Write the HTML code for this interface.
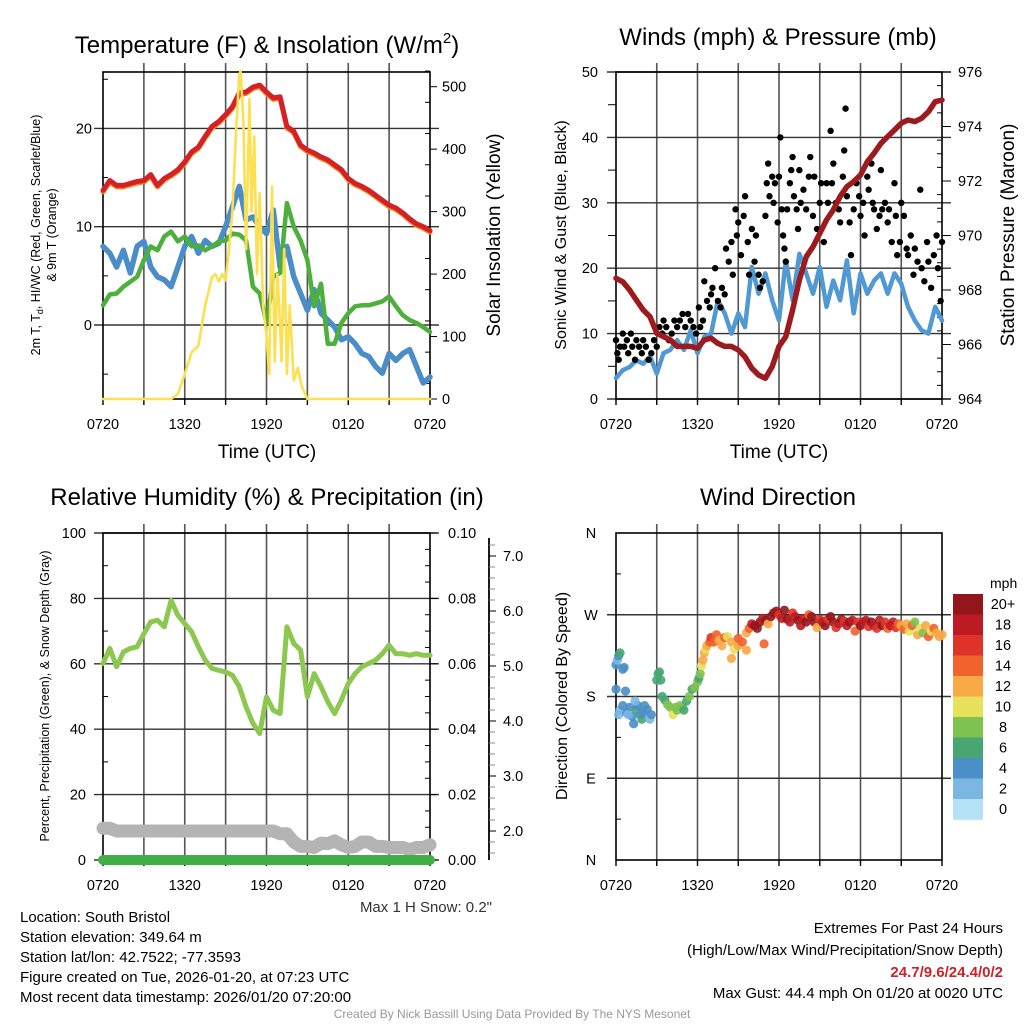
<!DOCTYPE html>
<html><head><meta charset="utf-8">
<style>
html,body{margin:0;padding:0;background:#fff;}
svg{display:block;font-family:"Liberation Sans",Arial,sans-serif;}
</style></head>
<body>
<svg id="fig" xmlns="http://www.w3.org/2000/svg" width="1024" height="1024" viewBox="0 0 1024 1024">
<rect width="1024" height="1024" fill="#fff"/>
<text x="267" y="53" font-size="24" text-anchor="middle">Temperature (F) &amp; Insolation (W/m<tspan font-size="15" dy="-10">2</tspan><tspan dy="10">)</tspan></text>
<text x="778" y="45" font-size="24" text-anchor="middle">Winds (mph) &amp; Pressure (mb)</text>
<text x="267" y="505" font-size="24" text-anchor="middle">Relative Humidity (%) &amp; Precipitation (in)</text>
<text x="778" y="505" font-size="24" text-anchor="middle">Wind Direction</text>
<g id="layer"></g>
<text x="267" y="458" font-size="19" text-anchor="middle">Time (UTC)</text>
<text x="779" y="458" font-size="19" text-anchor="middle">Time (UTC)</text>
<text transform="translate(40,235) rotate(-90)" font-size="12.5" text-anchor="middle">2m T, T<tspan font-size="9" dy="3">d</tspan><tspan dy="-3">, HI/WC (Red, Green, Scarlet/Blue)</tspan></text>
<text transform="translate(56,235) rotate(-90)" font-size="12.5" text-anchor="middle">&amp; 9m T (Orange)</text>
<text transform="translate(500,235) rotate(-90)" font-size="19" text-anchor="middle">Solar Insolation (Yellow)</text>
<text transform="translate(566,235) rotate(-90)" font-size="16" text-anchor="middle">Sonic Wind &amp; Gust (Blue, Black)</text>
<text transform="translate(1014,235) rotate(-90)" font-size="19" text-anchor="middle">Station Pressure (Maroon)</text>
<text transform="translate(49,696) rotate(-90)" font-size="12.5" text-anchor="middle">Percent, Precipitation (Green), &amp; Snow Depth (Gray)</text>
<text transform="translate(567,696) rotate(-90)" font-size="16" text-anchor="middle">Direction (Colored By Speed)</text>
<text x="492" y="912" font-size="15" fill="#333" text-anchor="end">Max 1 H Snow: 0.2"</text>
<g font-size="15">
<text x="20" y="922">Location: South Bristol</text>
<text x="20" y="942">Station elevation: 349.64 m</text>
<text x="20" y="962">Station lat/lon: 42.7522; -77.3593</text>
<text x="20" y="982">Figure created on Tue, 2026-01-20, at 07:23 UTC</text>
<text x="20" y="1002">Most recent data timestamp: 2026/01/20 07:20:00</text>
</g>
<g font-size="15" text-anchor="end">
<text x="1003" y="933">Extremes For Past 24 Hours</text>
<text x="1003" y="955">(High/Low/Max Wind/Precipitation/Snow Depth)</text>
<text x="1003" y="977" fill="#cc2229" font-weight="bold">24.7/9.6/24.4/0/2</text>
<text x="1003" y="998">Max Gust: 44.4 mph On 01/20 at 0020 UTC</text>
</g>
<text x="512" y="1018" font-size="12" fill="#999" text-anchor="middle">Created By Nick Bassill Using Data Provided By The NYS Mesonet</text>
</svg>
<script>
// ---- data ----
const timeTicks = ["0720","1320","1920","0120","0720"];
const halfHours = [0,0.5,1,1.5,2,2.5,3,3.5,4,4.5,5,5.5,6,6.5,7,7.5,8,8.5,9,9.5,10,10.5,11,11.5,12,12.5,13,13.5,14,14.5,15,15.5,16,16.5,17,17.5,18,18.5,19,19.5,20,20.5,21,21.5,22,22.5,23,23.5,24];
const tempF = [13.7,14.7,14.2,14.2,14.4,14.6,14.7,15.3,14.2,14.9,15.3,15.8,16.6,17.6,18.1,19.2,20.2,20.7,21.4,22.2,23.6,23.7,24.2,24.4,23.7,23.1,23.2,20.2,19.7,18.3,17.8,17.5,17.1,16.8,16.3,15.8,14.9,14.4,14.1,13.7,13.2,12.7,12.2,11.9,11.4,10.8,10.3,10.0,9.6];
const windChill = [8.0,7.3,5.9,7.6,5.3,8.0,8.5,5.9,4.9,4.6,3.9,5.9,8.0,9.0,7.3,8.6,8.0,8.3,10.0,12.0,14.1,10.7,11.0,10.0,9.3,11.7,5.9,8.0,4.9,3.2,1.5,3.6,1.2,0.5,-0.2,-1.5,-1.2,-1.9,-2.9,-3.2,-4.2,-4.9,-2.9,-3.6,-2.9,-2.5,-4.2,-5.9,-5.3];
const dewPoint = [2.0,3.1,3.2,3.9,4.4,4.9,6.6,8.0,7.6,9.0,9.5,8.5,9.0,8.0,8.1,7.6,8.0,8.5,8.6,9.3,9.2,8.6,3.9,3.2,0.2,4.9,5.3,12.4,10.0,8.6,6.6,1.9,4.2,-1.9,-1.9,0.2,1.2,1.9,2.0,2.0,2.2,2.4,2.9,1.9,1.0,0.5,0.2,-0.2,-0.7];
const solarHours = [0,5,5.5,6,6.5,7,7.5,8,8.25,8.5,8.75,9,9.25,9.5,9.75,10,10.1,10.3,10.5,10.75,10.9,11.1,11.3,11.5,11.75,12,12.2,12.4,12.6,12.8,13,13.1,13.3,13.5,13.7,14,14.3,14.6,15,24];
const solarW = [0,0,8,40,75,85,150,195,200,188,200,190,240,300,420,520,525,450,240,480,300,420,200,330,150,100,40,340,60,200,120,60,240,40,150,30,50,20,0,0];
const pressureMb = [968.43,968.3,968.0,967.63,967.27,967.02,966.41,966.29,966.17,965.93,965.93,965.93,965.86,966.17,966.23,966.04,965.93,965.93,965.8,965.55,965.13,964.88,964.76,965.19,965.93,966.29,967.27,968.37,969.22,969.59,970.08,970.57,970.94,971.43,971.79,971.98,972.22,972.71,973.02,973.38,973.63,973.87,974.12,974.24,974.18,974.3,974.54,974.91,974.97];
const sonicWind = [3.2,4.4,4.9,5.9,5.4,6.5,3.9,7.0,7.5,9.0,7.5,10.5,7.0,9.5,10.0,15.1,13.1,10.0,13.1,11.0,20.2,16.1,19.2,15.1,12.0,21.2,15.1,22.2,19.2,16.1,20.2,14.1,18.1,15.1,21.2,13.1,19.2,16.1,18.1,19.2,16.1,19.2,17.6,14.1,12.0,10.5,10.0,14.1,12.0];
const gustHours = [0,0.1,0.2,0.3,0.5,0.6,0.8,0.9,1.1,1.2,1.4,1.5,1.7,1.9,2.0,2.2,2.4,2.6,2.8,3.0,3.2,3.4,3.5,3.7,3.9,4.1,4.3,4.5,4.7,4.9,5.1,5.3,5.5,5.7,5.9,6.1,6.2,6.4,6.5,6.7,6.9,7.0,7.1,7.3,7.5,7.7,7.8,8.0,8.1,8.3,8.5,8.6,8.8,8.9,9.0,9.2,9.4,9.5,9.7,9.8,10.0,10.2,10.3,10.5,10.6,10.8,11.0,11.1,11.2,11.3,11.5,11.6,11.7,11.9,12.0,12.1,12.2,12.3,12.4,12.5,12.6,12.8,12.9,13.0,13.1,13.3,13.4,13.5,13.6,13.8,14.0,14.2,14.3,14.5,14.6,14.8,15.0,15.1,15.3,15.5,15.6,15.8,15.9,16.0,16.2,16.4,16.5,16.7,16.8,16.9,17.0,17.2,17.3,17.5,17.7,17.9,18.0,18.2,18.3,18.5,18.6,18.8,18.9,19.0,19.2,19.4,19.5,19.6,19.8,20.0,20.1,20.3,20.5,20.6,20.7,20.9,21.0,21.2,21.4,21.5,21.7,21.9,22.0,22.2,22.4,22.5,22.7,22.9,23.0,23.2,23.4,23.6,23.7,23.9,24.0];
const gustMph = [9,7,6,8,10,8,9,7,10,8,6,9,8,7,9,8,6,7,9,8,11,10,12,11,9,10,12,11,12,13,11,13,12,11,10,14,11,12,18,15,14,16,17,20,15,14,17,16,23,21,24,19,29,25,27,22,28,31,24,19,26,21,25,19,17,18,28,33,36,31,34,30,33,27,34,40,29,25,23,21,29,33,35,37,31,29,26,35,30,32,29,34,37,28,34,26,30,33,24,33,30,41,33,36,30,29,27,34,38,44.4,31,27,22,29,33,31,28,30,25,34,32,36,30,29,26,28,35,29,30,27,29,24,33,28,22,24,30,28,23,22,25,19,23,21,32,20,18,24,21,17,22,25,20,15,24];
const rhPct = [60.1,64.7,59.1,63.6,64.7,65.2,69.2,72.8,73.3,71.3,79.4,74.8,72.3,69.8,65.2,61.1,58.6,58.0,57.5,56.5,53.0,46.8,41.8,38.7,49.9,45.8,44.8,71.3,66.2,64.2,49.9,57.0,53.0,48.4,44.8,48.9,54.0,57.0,59.1,60.1,61.1,63.1,65.7,63.1,63.1,62.6,63.1,62.6,62.6];
const snowDepth = [2.05,2.05,2.0,2.0,2.0,2.0,2.0,2.0,2.0,2.0,2.0,2.0,2.0,2.0,2.0,2.0,2.0,2.0,2.0,2.0,2.0,2.0,2.0,2.0,2.0,2.0,1.95,1.95,1.8,1.72,1.72,1.7,1.78,1.77,1.82,1.75,1.7,1.72,1.8,1.8,1.72,1.72,1.7,1.7,1.7,1.66,1.7,1.7,1.75];
const precipIn = [0,0];
const precipHours = [0,24];
const dirHours = [0,0.1,0.2,0.3,0.5,0.6,0,0.7,0.2,0.3,0.5,0.8,1.0,1.2,1.3,1.5,1.6,1.8,1.9,2.0,2.1,2.3,2.5,2.6,1.4,0.9,3.0,3.1,3.2,3.3,3.4,3.6,3.8,4.0,4.2,4.4,4.5,4.7,4.9,5.0,5.2,5.4,5.6,5.8,6.0,6.1,6.2,6.3,6.4,6.5,6.6,6.7,6.9,7.0,7.2,7.4,7.6,7.8,8.0,8.2,8.5,8.7,9.0,9.3,9.6,9.8,10.0,10.2,10.4,10.6,10.8,11.0,11.2,11.4,11.6,11.8,12.0,12.2,12.4,12.6,12.8,13.0,13.2,13.4,13.6,13.8,14.0,14.2,14.4,14.6,14.8,15.0,15.2,15.4,15.6,15.8,16.0,16.2,16.4,16.6,16.8,17.0,17.2,17.4,17.6,17.8,18.0,18.2,18.4,18.6,18.8,19.0,19.2,19.4,19.6,19.8,20.0,20.2,20.4,20.6,20.8,21.0,21.2,21.4,21.6,21.8,22.0,22.2,22.4,22.6,22.8,23.0,23.2,23.4,23.6,23.8,24.0,10.9,9.6,8.5,9.0];
const dirDeg = [215,220,225,228,210,212,188,186,160,165,170,162,168,158,150,165,170,160,155,162,170,166,155,160,175,160,198,205,207,198,180,176,171,168,160,168,165,170,168,165,175,180,188,190,196,200,205,214,220,228,232,236,240,245,240,248,242,236,245,246,240,232,236,240,250,255,260,258,255,262,266,264,260,268,272,274,270,266,275,265,262,272,268,264,258,266,262,270,268,262,256,265,262,258,265,268,262,256,260,265,263,258,262,264,252,262,258,262,264,257,262,258,255,264,258,262,255,258,262,256,260,258,254,260,252,258,262,248,255,250,258,246,252,255,250,246,248,238,231,222,244];
const dirSpeed = [4,3,4,6,4,4,4,4,2,3,4,4,4,4,4,6,4,4,6,4,4,4,3,4,2,2,6,6,6,6,6,6,8,8,10,8,8,8,8,6,6,8,6,8,8,6,8,10,12,12,10,12,14,16,14,14,12,12,14,10,12,10,12,14,12,14,18,20,20,20,18,20,12,20,20,20,16,18,20,20,18,16,18,20,18,18,20,14,20,20,12,16,18,20,16,20,20,16,18,20,16,18,20,18,14,16,20,18,18,16,20,18,16,18,20,16,14,18,18,16,14,12,14,12,10,14,8,12,10,8,12,14,10,14,12,12,12,14,12,12,14];
const speedLabels = ["20+","18","16","14","12","10","8","6","4","2","0"];
const speedColors = ["#93161b","#bc1b24","#df3329","#f0632b","#f7a945","#e6e05a","#7ec24f","#47a672","#4a8fc7","#7ab8e3","#b5e2f7"];
const tempTicks=[0,10,20], solarTicks=[0,100,200,300,400,500];
const windTicks=[0,10,20,30,40,50], presTicks=[964,966,968,970,972,974,976];
const rhTicks=[0,20,40,60,80,100], precTicks=["0.00","0.02","0.04","0.06","0.08","0.10"], snowTicks=[2,3,4,5,6,7];
const dirTicks=["N","E","S","W","N"];

// ---- helpers ----
const NS="http://www.w3.org/2000/svg";
const layer=document.getElementById('layer');
function mk(tag,attrs,parent){const e=document.createElementNS(NS,tag);for(const k in attrs)e.setAttribute(k,attrs[k]);(parent||layer).appendChild(e);return e;}
function P(x0,x1,y0,y1){return {x0,x1,y0,y1,x:t=>x0+t*(x1-x0)/24};}
const p1=P(103,430,72,399), p2=P(616,942,72,399), p3=P(103,430,533,860), p4=P(616,942,533,860);
const y1L=v=>325-v*9.83, y1R=v=>399-v*0.6246;
const y2L=v=>399-v*6.54, y2R=v=>399-(v-964)*27.25;
const y3L=v=>860-v*3.27, y3R=v=>860-v*3270, y3S=v=>831-(v-2)*55;
const y4=d=>860-d*(327/360);

function frame(p,name,hLines){
  const g=mk('g',{});
  
  
  for(let k=1;k<8;k++){const x=p.x(k*3);const l=mk('line',{x1:x,x2:x,y1:p.y0-9,y2:p.y1,stroke:'#555','stroke-width':1.6},g);
    }
  hLines.forEach(y=>{const l=mk('line',{x1:p.x0-9,x2:p.x1+9,y1:y,y2:y,stroke:'#333','stroke-width':1.4},g);
    });
  const r=mk('rect',{x:p.x0,y:p.y0,width:p.x1-p.x0,height:p.y1-p.y0,fill:'none',stroke:'#000','stroke-width':1.6},g);
  
  for(let k=0;k<=8;k++){const x=p.x(k*3);mk('line',{x1:x,x2:x,y1:p.y1,y2:p.y1+6,stroke:'#000','stroke-width':1.4},g);}
  timeTicks.forEach((s,i)=>{const t=mk('text',{x:p.x(i*6),y:p.y1+30,'font-size':14.5,'text-anchor':'middle'},g);t.textContent=s;
    });
  return g;
}
function minor(x,ys,dir){ys.forEach(y=>mk('line',{x1:x,x2:x+dir*5,y1:y,y2:y,stroke:'#000','stroke-width':1}));}
function label(x,y,s,anchor,name,size){const t=mk('text',{x,y:y+5,'font-size':size||14.5,'text-anchor':anchor});t.textContent=s;
  return t;}
function line(p,xs,ys,yf,color,w,name,extra){
  const d=xs.map((t,i)=>(i?'L':'M')+p.x(t).toFixed(1)+','+yf(ys[i]).toFixed(1)).join('');
  const e=mk('path',Object.assign({d,fill:'none',stroke:color,'stroke-width':w,'stroke-linejoin':'round','stroke-linecap':'round'},extra||{}));
  return e;}

// ---- Panel 1 ----
frame(p1,'temp-panel',tempTicks.map(y1L));
tempTicks.forEach(v=>label(92,y1L(v),String(v),'end','temp-tick-label'));
solarTicks.forEach(v=>{label(442,y1R(v),String(v),'start','solar-tick-label');mk('line',{x1:430,x2:437,y1:y1R(v),y2:y1R(v),stroke:'#000'});});
{const ys=[];for(let v=25;v<=525;v+=50)ys.push(y1R(v));minor(430,ys,-1);}
{const ys=[];for(let v=-5;v<=25;v+=5)if(v%10)ys.push(y1L(v));minor(103,ys,1);}
line(p1,halfHours,windChill,y1L,'#4a8dc8',5.5,'wind-chill-line');
line(p1,halfHours,dewPoint,y1L,'#4daf3c',4.5,'dew-point-line');
line(p1,halfHours,tempF,v=>y1L(v)+1.5,'#f5841f',5,'9m-temp-line');
line(p1,halfHours,tempF,y1L,'#d42126',5,'2m-temp-line');
line(p1,solarHours,solarW,y1R,'#fbe051',2.6,'solar-line');

// ---- Panel 2 ----
frame(p2,'wind-panel',windTicks.map(y2L));
windTicks.forEach(v=>label(598,y2L(v),String(v),'end','wind-tick-label'));
presTicks.forEach(v=>{label(958,y2R(v),String(v),'start','pressure-tick-label');mk('line',{x1:942,x2:951,y1:y2R(v),y2:y2R(v),stroke:'#000'});});
{const ys=[];for(let v=5;v<50;v+=10)ys.push(y2L(v));ys.forEach(y=>mk('line',{x1:608,x2:616,y1:y,y2:y,stroke:'#000'}));}
{const ys=[];for(let v=964.5;v<976;v+=0.5)if(v%2)ys.push(y2R(v));minor(942,ys,-1);}
line(p2,halfHours,sonicWind,y2L,'#5199d2',4.5,'sonic-wind-line');
gustHours.forEach((t,i)=>{const c=mk('circle',{cx:p2.x(t),cy:y2L(gustMph[i]),r:3.2,fill:'#000'});
  });
line(p2,halfHours,pressureMb,y2R,'#9b1b1f',5.5,'pressure-line');

// ---- Panel 3 ----
frame(p3,'humidity-panel',rhTicks.map(y3L));
rhTicks.forEach(v=>label(86,y3L(v),String(v),'end','rh-tick-label'));
precTicks.forEach(s=>{const y=y3R(parseFloat(s));label(448,y,s,'start','precip-tick-label');mk('line',{x1:430,x2:437,y1:y,y2:y,stroke:'#000'});});
{const ys=[];for(let v=10;v<100;v+=20)ys.push(y3L(v));ys.forEach(y=>mk('line',{x1:103,x2:108,y1:y,y2:y,stroke:'#000'}));}
{const ys=[];for(let v=0.005;v<0.1;v+=0.005)if(Math.round(v*1000)%20)ys.push(y3R(v));minor(430,ys,-1);}
{const ax=mk('line',{x1:489,x2:489,y1:538,y2:860,stroke:'#000','stroke-width':1.8});}
snowTicks.forEach(v=>{const y=y3S(v);mk('line',{x1:489,x2:496,y1:y,y2:y,stroke:'#000'});label(503,y,v.toFixed(1),'start','snow-tick-label');});
{const ys=[];for(let v=1.6;v<=7.4;v+=0.2)if(Math.abs(v-Math.round(v))>0.05)ys.push(y3S(v));ys.forEach(y=>mk('line',{x1:489,x2:495,y1:y,y2:y,stroke:'#888','stroke-width':1}));}
line(p3,halfHours,snowDepth,y3S,'#b4b4b4',13,'snow-depth-line');
line(p3,precipHours,precipIn,y3R,'#42ae48',10,'precip-line');
line(p3,halfHours,rhPct,y3L,'#8cc74f',5,'rh-line');

// ---- Panel 4 ----
frame(p4,'direction-panel',[90,180,270].map(y4));
dirTicks.forEach((s,i)=>label(591,y4(i*90),s,'middle','direction-tick-label'));
[45,135,225,315].forEach(d=>mk('line',{x1:616,x2:621,y1:y4(d),y2:y4(d),stroke:'#000'}));
dirHours.forEach((t,i)=>{const s=dirSpeed[i];const idx=Math.max(0,Math.min(10,10-Math.floor(s/2)));
  const c=mk('circle',{cx:p4.x(t),cy:y4(dirDeg[i]),r:4.6,fill:speedColors[idx],'fill-opacity':0.9});
  });
{const g=mk('g',{});
 const t=mk('text',{x:990,y:588,'font-size':14,'text-anchor':'start'},g);t.textContent='mph';
 
 speedColors.forEach((c,i)=>{const r=mk('rect',{x:953,y:594+i*20.5,width:30,height:20.8,fill:c},g);
   
   const l=mk('text',{x:1003,y:609+i*20.5,'font-size':14.5,'text-anchor':'middle'},g);l.textContent=speedLabels[i];
   });}
</script>
</body></html>
